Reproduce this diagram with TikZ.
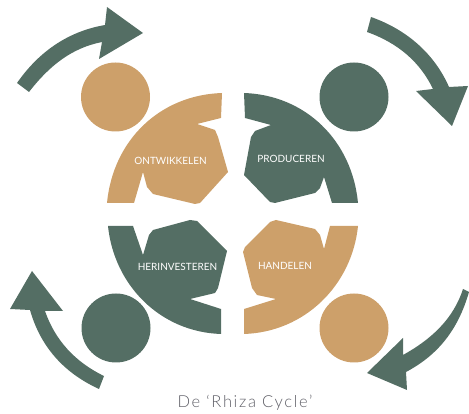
\documentclass[tikz,border=0pt]{standalone}
\usepackage{fontspec}
\setmainfont{Lato}
\newfontfamily\capfont[LetterSpace=10]{Lato Light}
\definecolor{rgreen}{HTML}{546E64}
\definecolor{rtan}{HTML}{CDA06A}
\definecolor{rcap}{HTML}{5E5E66}
\tikzset{
  shapegreen/.style={fill=rgreen,draw=none},
  shapetan/.style={fill=rtan,draw=none},
  seglabel/.style={text=white,font=\fontsize{10}{12}\selectfont,inner sep=0pt},
  caplabel/.style={text=rcap,font=\capfont\fontsize{16.5}{18}\selectfont,inner sep=0pt}
}
\begin{document}
\begin{tikzpicture}[x=1pt,y=-1pt]
\useasboundingbox (0,0) rectangle (469,414);
% circles
\fill[shapetan] (115.5,97) circle (34.5pt);
\fill[shapegreen] (354,97) circle (34.5pt);
\fill[shapegreen] (116,328) circle (34.5pt);
\fill[shapetan] (354,328) circle (34.5pt);
% quarter segments
\fill[shapetan] (107,203) .. controls (113,140) and (160,95) .. (222,93)
  -- (221,118) -- (197,124) -- (215,130) -- (218,137) -- (228,172) -- (200,203) -- (195,204)
  -- (153,194) -- (147,187) -- (143,172) -- (134,203) -- cycle;
\fill[shapegreen] (244,93) .. controls (305,95) and (352,140) .. (358,203)
  -- (332,203) -- (324,177) -- (320,188) -- (315,193) -- (275,203) -- (270,202) -- (244,175)
  -- (251,137) -- (255,131) -- (271,125) -- (245,118) -- cycle;
\fill[shapegreen] (108,226) .. controls (114,285) and (160,332) .. (221,334)
  -- (221,309) -- (190,299) -- (215,293) -- (218,288) -- (227,251) -- (197,221) -- (190,220)
  -- (153,230) -- (149,235) -- (143,255) -- (133,226) -- cycle;
\fill[shapetan] (358,226) .. controls (352,285) and (305,332) .. (244,334)
  -- (244,309) -- (276,299) -- (257,295) -- (252,288) -- (243,252) -- (245,247) -- (270,222)
  -- (276,220) -- (315,229) -- (320,235) -- (324,249) -- (330,226) -- cycle;
% arrows
\fill[shapegreen] (17,83) .. controls (40,50) and (70,31) .. (105,25) -- (107,7) -- (143,33)
  -- (99,59) -- (102,42) .. controls (72,48) and (50,65) .. (29,92) -- cycle;
\fill[shapegreen] (371,17) .. controls (408,30) and (435,55) .. (449,87) -- (468,86) -- (452,126)
  -- (416,91) -- (433,89) .. controls (420,62) and (398,43) .. (367,32) -- cycle;
\fill[shapegreen] (99,389) .. controls (62,372) and (40,345) .. (30,310) -- (10,309) -- (32,271)
  -- (63,311) -- (45,311) .. controls (55,340) and (75,362) .. (104,376) -- cycle;
\fill[shapegreen] (469,292) .. controls (458,330) and (438,355) .. (406,372) -- (407,390) -- (367,373)
  -- (403,338) -- (403,355) .. controls (430,340) and (453,320) .. (463,289) -- cycle;
% labels
\node[seglabel] (ontw) at (170.5,161) {ONTWIKKELEN};
\node[seglabel] (prod) at (291,159) {PRODUCEREN};
\node[seglabel] (heri) at (177.5,267) {HERINVESTEREN};
\node[seglabel] (hand) at (285,266) {HANDELEN};
\node[caplabel] (capt) at (245,403) {De ‘Rhiza Cycle’};
\end{tikzpicture}
\end{document}
